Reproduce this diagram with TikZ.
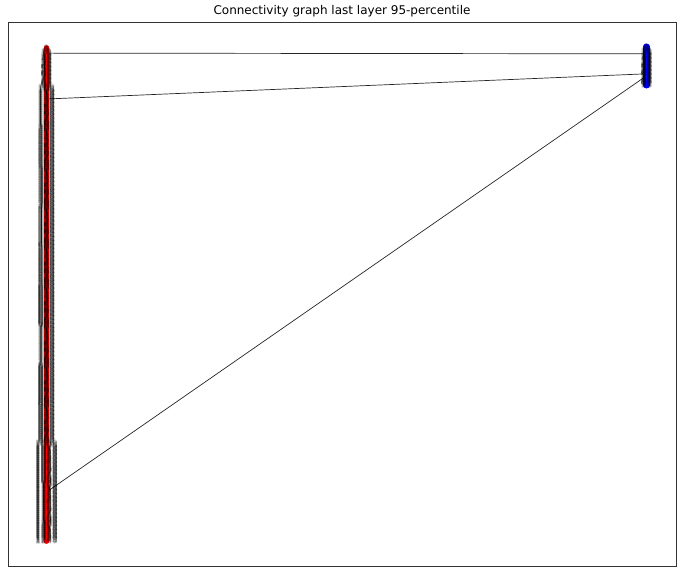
\documentclass[tikz,border=0pt]{standalone}
\usepackage{fontspec}
\setmainfont{DejaVu Sans}
\begin{document}
\begin{tikzpicture}[x=1pt,y=-1pt,
  edge/.style={draw=black!85,line width=0.7pt},
  lnode/.style={circle,fill=red,inner sep=0pt,minimum size=5.5pt},
  rnode/.style={circle,fill=blue,inner sep=0pt,minimum size=7pt},
  lab/.style={inner sep=0pt,text=black,text opacity=0.16,font=\fontsize{9}{9}\selectfont},
  frame/.style={draw=black!80,line width=0.8pt}]
\useasboundingbox (0,0) rectangle (684,573);
\node[font=\fontsize{12}{13}\selectfont] (title) at (342,11) {Connectivity graph last layer 95-percentile};
\draw[frame] (8,22) rectangle (676,566);
\foreach \i in {0,...,1247} { \coordinate (l\i) at (46.5,{48+\i*0.3954}); }
\foreach \j in {0,...,95} { \coordinate (r\j) at (646.5,{47+\j*0.4}); }
\draw[edge] (l13) -- (r17);
\draw[edge] (l129) -- (r67);
\draw[edge] (l1123) -- (r72);
\foreach \i in {0,...,1247} { \node[lnode] (ln\i) at (l\i) {}; }
\foreach \j in {0,...,95} { \node[rnode] (rn\j) at (r\j) {}; }
\foreach \i in {0,...,1247} { \node[lab] (lt\i) at (l\i) {\i}; }
\foreach \j in {0,...,95} { \node[lab] (rt\j) at (r\j) {\j}; }
\end{tikzpicture}
\end{document}
